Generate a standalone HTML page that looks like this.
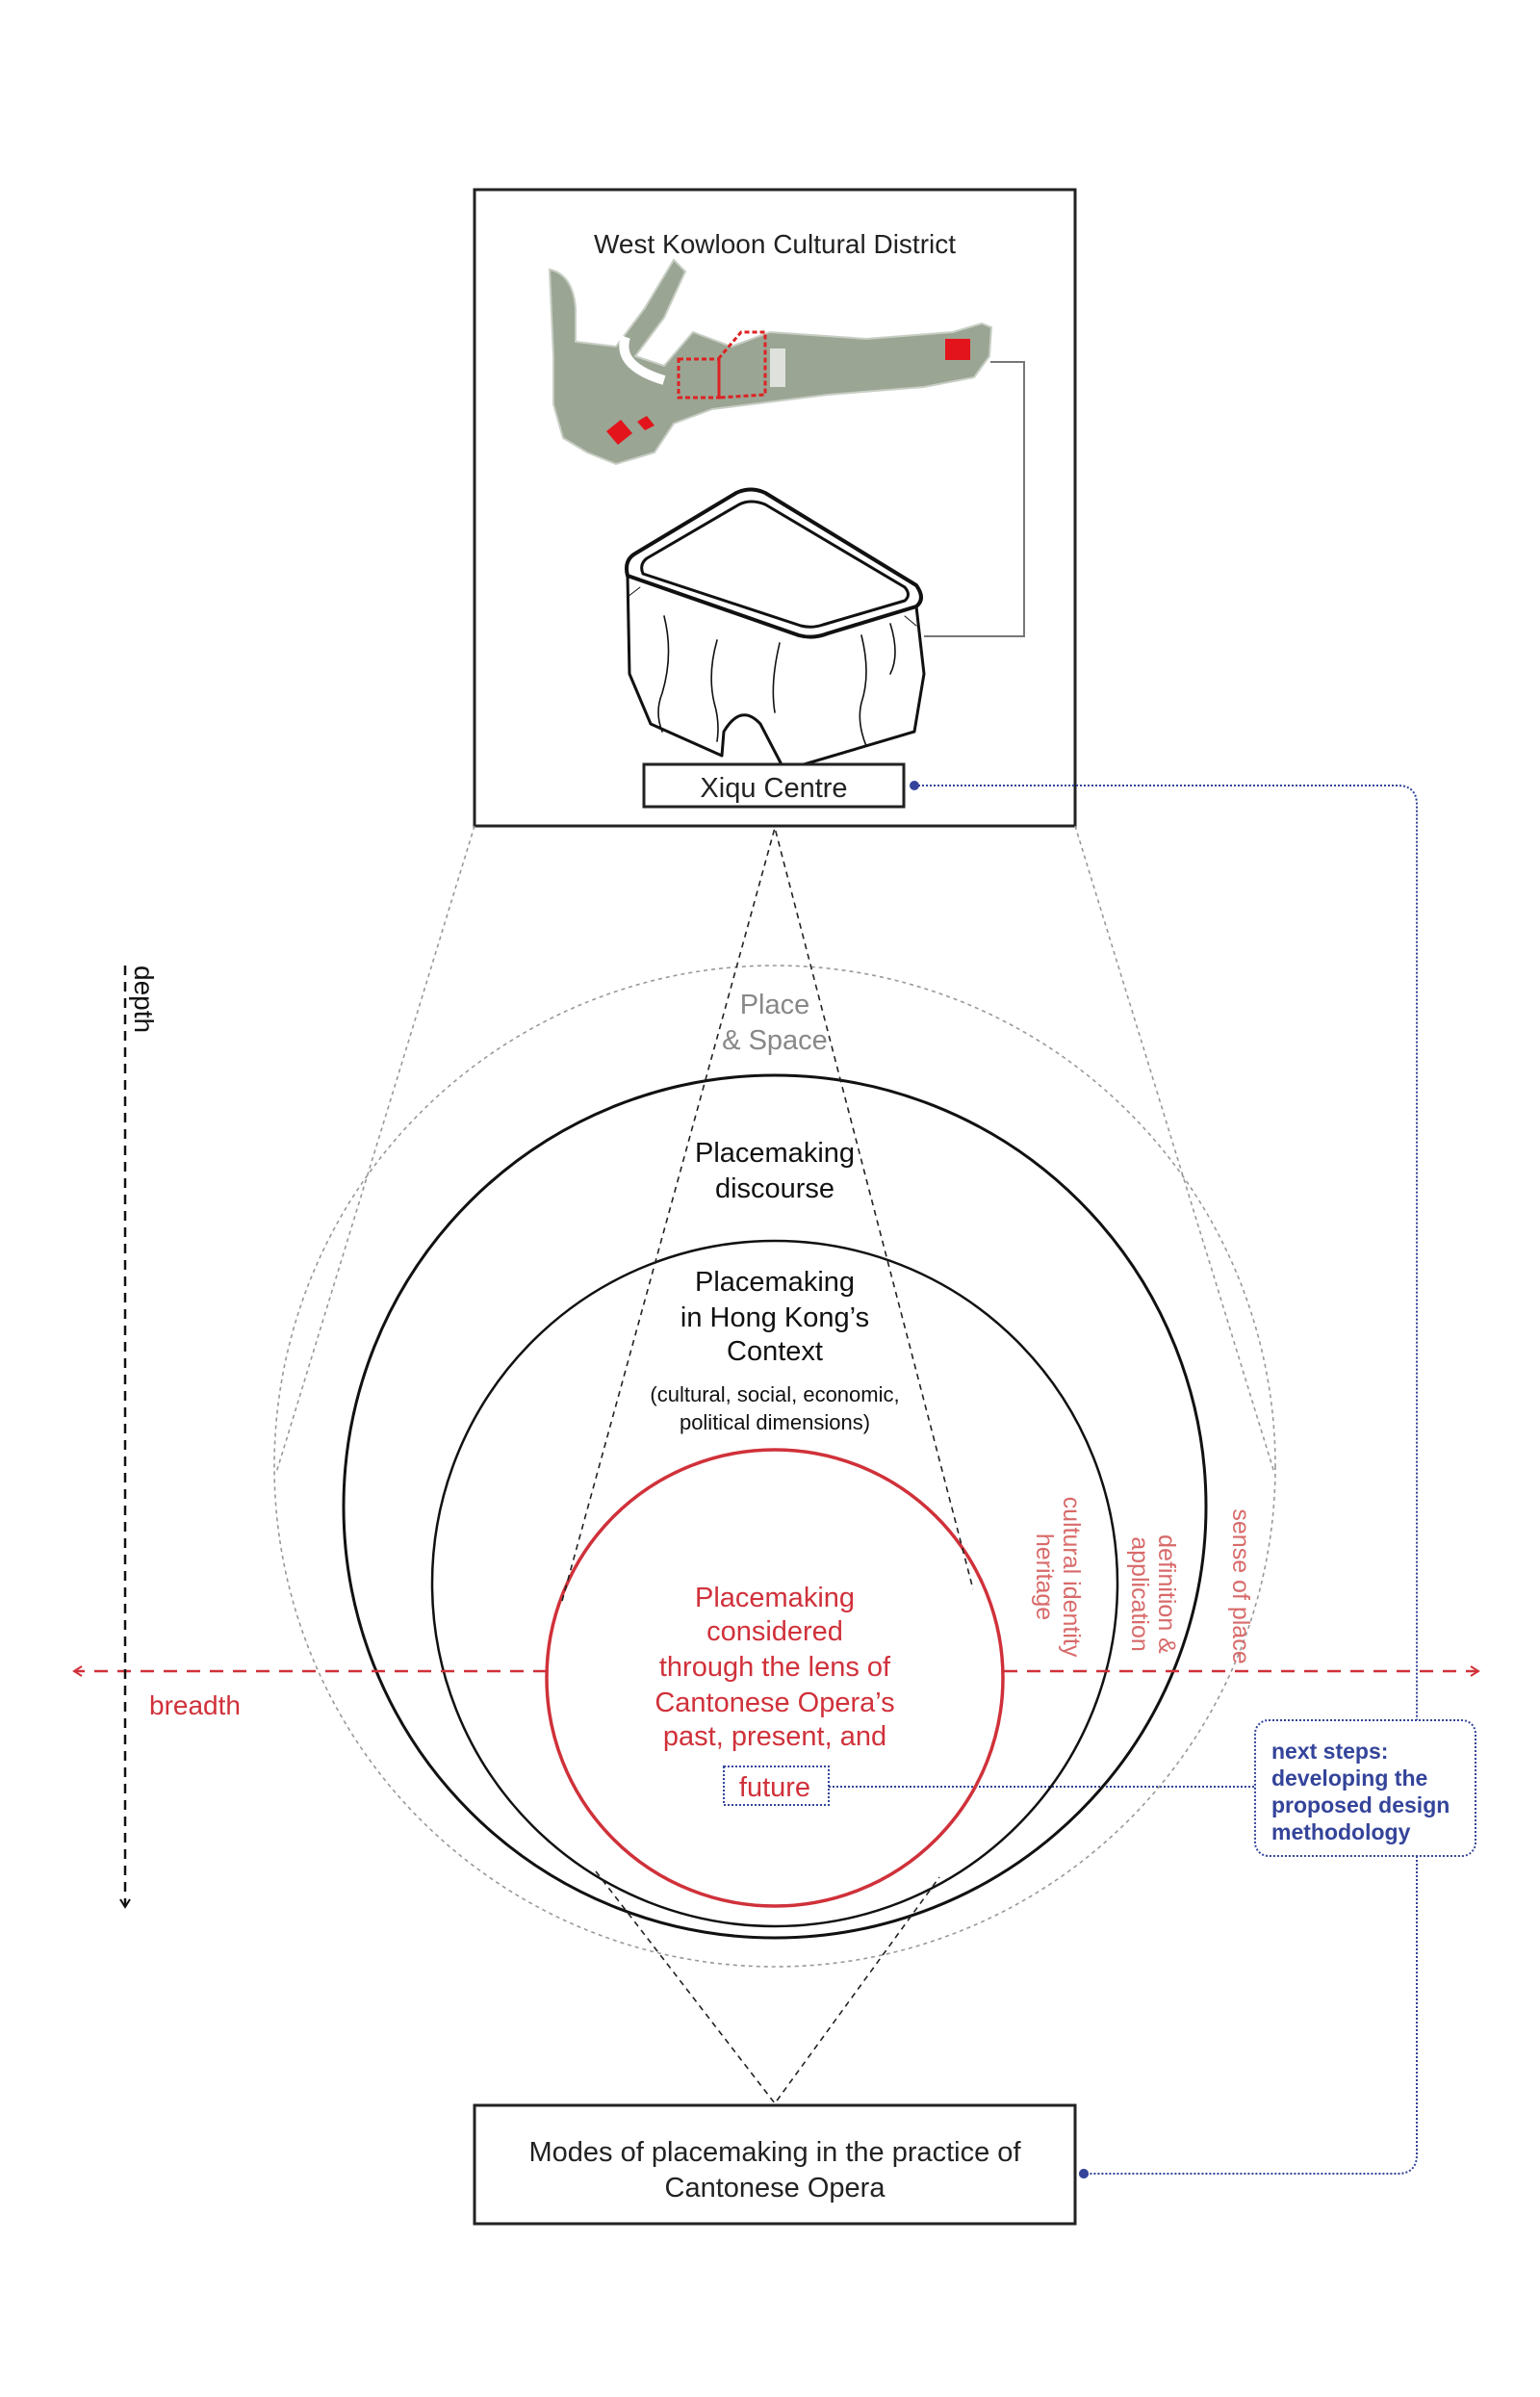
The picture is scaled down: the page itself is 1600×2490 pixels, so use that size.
<!DOCTYPE html>
<html><head><meta charset="utf-8"><style>
html,body{margin:0;padding:0;background:#fff;}
svg{display:block;}
text{font-family:"Liberation Sans","DejaVu Sans",sans-serif;}
</style></head><body>
<svg width="1600" height="2490" viewBox="0 0 1600 2490" xmlns="http://www.w3.org/2000/svg">
<defs>
<marker id="ar" markerWidth="12" markerHeight="12" refX="10" refY="6" orient="auto" markerUnits="userSpaceOnUse"><path d="M2,1 L10,6 L2,11" fill="none" stroke="#d0313a" stroke-width="2"/></marker>
<marker id="ak" markerWidth="12" markerHeight="12" refX="10" refY="6" orient="auto" markerUnits="userSpaceOnUse"><path d="M2,1 L10,6 L2,11" fill="none" stroke="#111" stroke-width="2"/></marker>
</defs>
<!-- top box -->
<rect x="493" y="197" width="624" height="661" fill="none" stroke="#222" stroke-width="3"/>
<text x="805" y="263" font-size="28" text-anchor="middle" fill="#222">West Kowloon Cultural District</text>
<!-- map -->
<path d="M571,280 Q595,285 598,320 L598,355 L640,360 L670,320 L700,270 L712,282 L690,330 L660,370 L690,380 L720,345 L760,360 L800,345 L900,352 L990,345 L1020,336 L1030,340 L1028,370 L1012,392 L960,402 L860,410 L780,420 L740,425 L700,440 L680,470 L640,482 L610,470 L585,455 L575,420 L575,370 Z" fill="#9aa594" stroke="#c8cec4" stroke-width="2"/>
<path d="M650,350 Q640,380 690,395" fill="none" stroke="#fff" stroke-width="10"/>
<rect x="705" y="373" width="42" height="40" fill="none" stroke="#d22" stroke-width="3" stroke-dasharray="5,3"/>
<path d="M747,413 L747,372 L770,345 L795,345 L795,410 Z" fill="none" stroke="#d22" stroke-width="3" stroke-dasharray="5,3"/>
<rect x="800" y="362" width="16" height="40" fill="#dfe2dc"/>
<rect x="982" y="352" width="26" height="22" fill="#e3141b"/>
<polygon points="630,448 645,436 657,450 642,462" fill="#e3141b"/>
<polygon points="662,438 672,432 680,442 670,447" fill="#e3141b"/>
<!-- connector -->
<polyline points="1029,376 1064,376 1064,661 960,661" fill="none" stroke="#777" stroke-width="2"/>
<!-- building -->
<g fill="none" stroke="#111" stroke-linecap="round" stroke-linejoin="round">
<path d="M660,575 Q648,582 652,598 L830,660 Q845,664 860,658 L952,630 Q962,622 952,608 L795,512 Q780,505 765,512 Z" stroke-width="4" fill="#fff"/>
<path d="M672,580 Q664,586 668,596 L832,650 Q843,653 855,649 L940,624 Q947,618 940,610 L795,524 Q780,518 768,524 Z" stroke-width="3"/>
<path d="M652,598 L654,700 L676,752 L750,785 L752,760 Q770,730 790,752 L815,800 L950,760 L960,700 L952,630" stroke-width="3"/>
<path d="M652,620 L665,610 M952,650 L940,640"/>
<path d="M690,640 Q700,680 688,720 Q680,740 688,760 M745,665 Q735,700 742,730 Q748,750 745,770 M810,668 Q800,710 805,740 M895,660 Q905,700 895,730 Q890,750 900,775 M925,648 Q935,680 925,700" stroke-width="1.6"/>
</g>
<!-- Xiqu Centre -->
<rect x="669" y="794" width="270" height="44" fill="#fff" stroke="#222" stroke-width="3"/>
<text x="804" y="828" font-size="29" text-anchor="middle" fill="#222">Xiqu Centre</text>
<!-- blue connectors -->
<g fill="none" stroke="#34449a" stroke-width="2" stroke-dasharray="2,2">
<path d="M950,816 L1452,816 Q1472,816 1472,836 L1472,1787"/>
<path d="M1472,1928 L1472,2238 Q1472,2258 1452,2258 L1126,2258"/>
<path d="M861,1856 L1304,1856"/>
<rect x="752" y="1835" width="109" height="40"/>
<rect x="1304" y="1787" width="229" height="141" rx="14"/>
</g>
<circle cx="950" cy="816" r="5" fill="#34449a"/>
<circle cx="1126" cy="2258" r="5" fill="#34449a"/>
<text font-size="23" font-weight="bold" fill="#34449a"><tspan x="1321" y="1827">next steps:</tspan><tspan x="1321" y="1855">developing the</tspan><tspan x="1321" y="1883">proposed design</tspan><tspan x="1321" y="1911">methodology</tspan></text>
<!-- gray dotted outer -->
<g fill="none" stroke="#999" stroke-width="1.6" stroke-dasharray="4,4">
<circle cx="805" cy="1523" r="520"/>
<line x1="493" y1="858" x2="287" y2="1530"/>
<line x1="1117" y1="858" x2="1324" y2="1530"/>
</g>
<!-- black circles -->
<circle cx="805" cy="1565" r="448" fill="none" stroke="#111" stroke-width="3"/>
<circle cx="805" cy="1645" r="356" fill="none" stroke="#111" stroke-width="2.5"/>
<circle cx="805" cy="1743" r="237" fill="none" stroke="#d0313a" stroke-width="3.5"/>
<!-- triangles -->
<g fill="none" stroke="#222" stroke-width="1.6" stroke-dasharray="6,5">
<polyline points="584,1663 805,860 1011,1651"/>
<polyline points="619,1944 805,2185 976,1950"/>
</g>
<!-- breadth -->
<line x1="1043" y1="1736" x2="1536" y2="1736" stroke="#d0313a" stroke-width="2.5" stroke-dasharray="14,10" marker-end="url(#ar)"/>
<line x1="568" y1="1736" x2="77" y2="1736" stroke="#d0313a" stroke-width="2.5" stroke-dasharray="14,10" marker-end="url(#ar)"/>
<text x="155" y="1781" font-size="28" fill="#d0313a">breadth</text>
<!-- depth -->
<line x1="130" y1="1003" x2="130" y2="1981" stroke="#111" stroke-width="2.5" stroke-dasharray="10,7" marker-end="url(#ak)"/>
<text transform="translate(140,1003) rotate(90)" font-size="28" fill="#111">depth</text>
<!-- labels -->
<text font-size="29" text-anchor="middle" fill="#888"><tspan x="805" y="1053">Place</tspan><tspan x="805" y="1090">&amp; Space</tspan></text>
<text font-size="29" text-anchor="middle" fill="#111"><tspan x="805" y="1207">Placemaking</tspan><tspan x="805" y="1244">discourse</tspan></text>
<text font-size="29" text-anchor="middle" fill="#111"><tspan x="805" y="1341">Placemaking</tspan><tspan x="805" y="1378">in Hong Kong’s</tspan><tspan x="805" y="1413">Context</tspan></text>
<text font-size="22" text-anchor="middle" fill="#111"><tspan x="805" y="1456">(cultural, social, economic,</tspan><tspan x="805" y="1485">political dimensions)</tspan></text>
<text font-size="29" text-anchor="middle" fill="#d0313a"><tspan x="805" y="1669">Placemaking</tspan><tspan x="805" y="1704">considered</tspan><tspan x="805" y="1741">through the lens of</tspan><tspan x="805" y="1778">Cantonese Opera’s</tspan><tspan x="805" y="1813">past, present, and</tspan><tspan x="805" y="1866">future</tspan></text>
<text transform="translate(1101,1638) rotate(90)" font-size="25" text-anchor="middle" fill="#d86a6a"><tspan x="0" y="-4">cultural identity</tspan><tspan x="0" y="24">heritage</tspan></text>
<text transform="translate(1200,1656) rotate(90)" font-size="25" text-anchor="middle" fill="#d86a6a"><tspan x="0" y="-4">definition &amp;</tspan><tspan x="0" y="24">application</tspan></text>
<text transform="translate(1277,1648) rotate(90)" font-size="25" text-anchor="middle" fill="#d86a6a"><tspan x="0" y="-4">sense of place</tspan></text>
<!-- bottom box -->
<rect x="493" y="2187" width="624" height="123" fill="#fff" stroke="#222" stroke-width="3"/>
<text font-size="29" text-anchor="middle" fill="#222"><tspan x="805" y="2245">Modes of placemaking in the practice of</tspan><tspan x="805" y="2282">Cantonese Opera</tspan></text>
<circle cx="1126" cy="2258" r="5" fill="#34449a"/>
</svg>
</body></html>
